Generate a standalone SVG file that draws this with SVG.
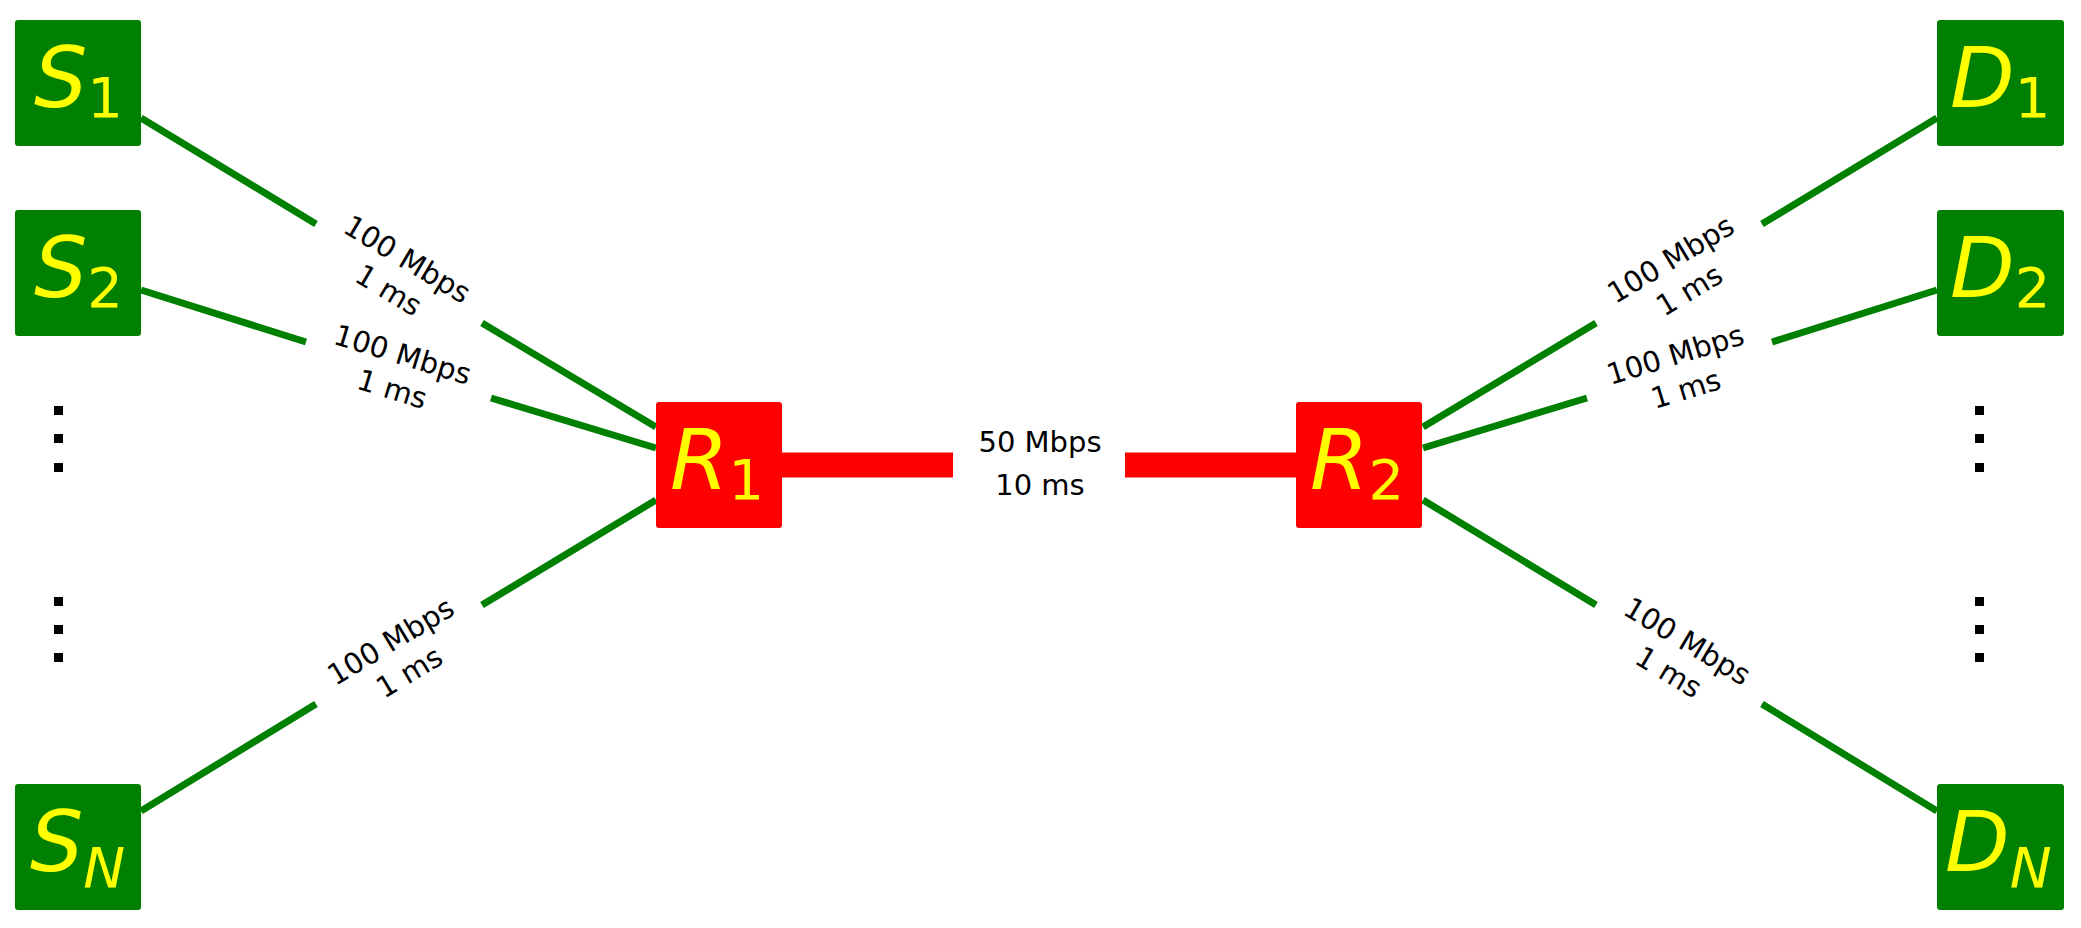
<svg xmlns="http://www.w3.org/2000/svg" width="2081" height="928" viewBox="0 0 2081 928">
<style>
.g{fill:#008000}.r{fill:#ff0000}
.n{font-family:"DejaVu Sans",sans-serif;font-style:italic;fill:#ffff00;font-size:84px}
.sub{font-style:normal;font-size:56px}
.subi{font-size:56px}
.l{font-family:"DejaVu Sans",sans-serif;font-size:29px;fill:#000;text-anchor:middle}
.gl{stroke:#008000;stroke-width:7;fill:none}
.rl{stroke:#ff0000;stroke-width:25;fill:none}
.d{fill:#000}
</style>
<rect width="2081" height="928" fill="#fff"/>
<g id="connectors">
<path class="rl" d="M782 465H953M1125 465H1296"/>
<path class="gl" d="M141 118L316 224M482 323L656 427"/>
<path class="gl" d="M141 290L306 342M491 398L656 448"/>
<path class="gl" d="M141 811L316 704M482 605L656 500"/>
<path class="gl" d="M1937 118L1762 224M1596 323L1423 427"/>
<path class="gl" d="M1937 290L1772 342M1587 398L1423 448"/>
<path class="gl" d="M1937 811L1762 704M1596 605L1423 500"/>
<text class="l" x="1040" y="452">50 Mbps</text>
<text class="l" x="1040" y="495">10 ms</text>
<g transform="translate(399,273) rotate(31)"><text class="l" y="-6">100 Mbps</text><text class="l" y="30">1 ms</text></g>
<g transform="translate(398,370) rotate(17)"><text class="l" y="-6">100 Mbps</text><text class="l" y="30">1 ms</text></g>
<g transform="translate(399,655) rotate(-31)"><text class="l" y="-6">100 Mbps</text><text class="l" y="30">1 ms</text></g>
<g transform="translate(1679,273) rotate(-31)"><text class="l" y="-6">100 Mbps</text><text class="l" y="30">1 ms</text></g>
<g transform="translate(1680,370) rotate(-17)"><text class="l" y="-6">100 Mbps</text><text class="l" y="30">1 ms</text></g>
<g transform="translate(1679,655) rotate(31)"><text class="l" y="-6">100 Mbps</text><text class="l" y="30">1 ms</text></g>
</g>
<g id="S1"><rect class="g" x="15" y="20" width="126" height="126" rx="3"/><text class="n" x="34" y="107">S<tspan class="sub" dy="10">1</tspan></text></g>
<g id="S2"><rect class="g" x="15" y="210" width="126" height="126" rx="3"/><text class="n" x="34" y="297">S<tspan class="sub" dy="10">2</tspan></text></g>
<g id="SN"><rect class="g" x="15" y="784" width="126" height="126" rx="3"/><text class="n" x="30" y="871">S<tspan class="subi" dy="16">N</tspan></text></g>
<g id="R1"><rect class="r" x="656" y="402" width="126" height="126" rx="3"/><text class="n" x="670" y="489">R<tspan class="sub" dy="10">1</tspan></text></g>
<g id="R2"><rect class="r" x="1296" y="402" width="126" height="126" rx="3"/><text class="n" x="1310" y="489">R<tspan class="sub" dy="10">2</tspan></text></g>
<g id="D1"><rect class="g" x="1937" y="20" width="127" height="126" rx="3"/><text class="n" x="1950" y="107">D<tspan class="sub" dy="10">1</tspan></text></g>
<g id="D2"><rect class="g" x="1937" y="210" width="127" height="126" rx="3"/><text class="n" x="1950" y="297">D<tspan class="sub" dy="10">2</tspan></text></g>
<g id="DN"><rect class="g" x="1937" y="784" width="127" height="126" rx="3"/><text class="n" x="1945" y="871">D<tspan class="subi" dy="16">N</tspan></text></g>
<g id="dots">
<rect class="d" x="54" y="406" width="9" height="9"/><rect class="d" x="54" y="434" width="9" height="9"/><rect class="d" x="54" y="463" width="9" height="9"/>
<rect class="d" x="54" y="597" width="9" height="9"/><rect class="d" x="54" y="625" width="9" height="9"/><rect class="d" x="54" y="653" width="9" height="9"/>
<rect class="d" x="1975" y="406" width="9" height="9"/><rect class="d" x="1975" y="434" width="9" height="9"/><rect class="d" x="1975" y="463" width="9" height="9"/>
<rect class="d" x="1975" y="597" width="9" height="9"/><rect class="d" x="1975" y="625" width="9" height="9"/><rect class="d" x="1975" y="653" width="9" height="9"/>
</g>
</svg>
